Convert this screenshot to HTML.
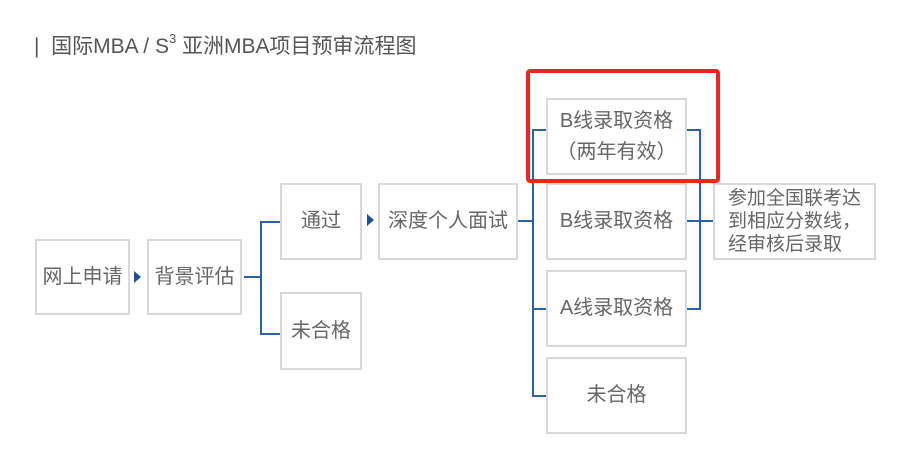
<!DOCTYPE html>
<html><head><meta charset="utf-8"><style>
body{margin:0;width:919px;height:466px;background:#fff;position:relative;overflow:hidden;font-family:"Liberation Sans","Noto Sans CJK SC",sans-serif;color:#666}
.b{position:absolute;border:2px solid #d8d8d8;box-sizing:border-box;display:flex;align-items:center;justify-content:center;text-align:center;font-size:20px;line-height:33px;color:#666;white-space:nowrap}
.l{position:absolute;background:#2f5fa5}
.t{position:absolute;width:0;height:0;border-top:6px solid transparent;border-bottom:6px solid transparent;border-left:7px solid #1f4f96}
</style></head><body>
<div style="position:absolute;left:34px;top:30px;font-size:21px;color:#555;white-space:nowrap">|&nbsp; 国际MBA / S<sup style="font-size:13px;vertical-align:10px;line-height:0">3</sup> 亚洲MBA项目预审流程图</div>

<div class="b" style="left:35px;top:239px;width:95px;height:76px">网上申请</div>
<div class="t" style="left:134px;top:271px"></div>
<div class="b" style="left:147px;top:239px;width:95px;height:76px">背景评估</div>
<div class="l" style="left:244px;top:276px;width:17px;height:2px"></div>
<div class="l" style="left:260px;top:221px;width:2px;height:114px"></div>
<div class="l" style="left:260px;top:221px;width:20px;height:2px"></div>
<div class="l" style="left:260px;top:333px;width:20px;height:2px"></div>
<div class="b" style="left:280px;top:183px;width:82px;height:77px">通过</div>
<div class="b" style="left:280px;top:292px;width:82px;height:78px">未合格</div>
<div class="t" style="left:367px;top:214px"></div>
<div class="b" style="left:378px;top:183px;width:140px;height:77px">深度个人面试</div>
<div class="l" style="left:518px;top:220px;width:16px;height:2px"></div>
<div class="l" style="left:532px;top:129px;width:2px;height:268px"></div>
<div class="l" style="left:532px;top:129px;width:14px;height:2px"></div>
<div class="l" style="left:532px;top:308px;width:14px;height:2px"></div>
<div class="l" style="left:532px;top:395px;width:14px;height:2px"></div>
<div class="b" style="left:546px;top:98px;width:141px;height:77px;line-height:31px">B线录取资格<br>（两年有效）</div>
<div class="b" style="left:546px;top:183px;width:141px;height:77px">B线录取资格</div>
<div class="b" style="left:546px;top:270px;width:141px;height:77px">A线录取资格</div>
<div class="b" style="left:546px;top:357px;width:141px;height:77px">未合格</div>
<div class="l" style="left:687px;top:129px;width:13px;height:2px"></div>
<div class="l" style="left:687px;top:308px;width:13px;height:2px"></div>
<div class="l" style="left:687px;top:220px;width:26px;height:2px"></div>
<div class="l" style="left:699px;top:129px;width:2px;height:181px"></div>
<div class="b" style="left:713px;top:183px;width:163px;height:77px;font-size:19px;line-height:23px;justify-content:flex-start;text-align:left;padding-left:13px">参加全国联考达<br>到相应分数线，<br>经审核后录取</div>
<div style="position:absolute;left:526px;top:69px;width:194px;height:114px;border:4px solid #f5231c;border-radius:4px;box-sizing:border-box"></div>
</body></html>
